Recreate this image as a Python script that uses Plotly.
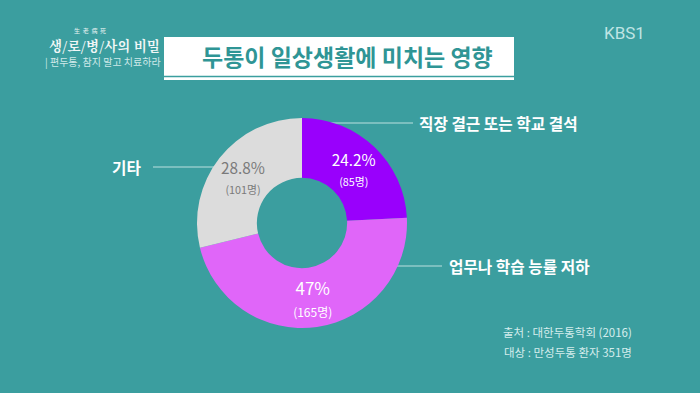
import plotly.graph_objects as go

W, H = 700, 393
BG = "#3b9e9f"
FONT = "Noto Sans CJK KR"

categories = ["직장 결근 또는 학교 결석", "업무나 학습 능률 저하", "기타"]
counts = [85, 165, 101]
pct_labels = ["24.2%", "47%", "28.8%"]
colors = ["#9900fc", "#e066f9", "#dcdcdc"]
text_colors = ["#ffffff", "#ffffff", "#7a7a7a"]

def px(x):
    return x / W

def py(y):
    return 1 - y / H

texts = [
    f"<span style='font-size:17px'>{p}</span><br><span style='font-size:12px'>({c}명)</span>"
    for p, c in zip(pct_labels, counts)
]

fig = go.Figure(go.Pie(
    labels=categories,
    values=counts,
    text=texts,
    textinfo="text",
    textposition="inside",
    insidetextorientation="horizontal",
    textfont=dict(family=FONT, size=17, color=text_colors),
    marker=dict(colors=colors, line=dict(width=0)),
    hole=0.43,
    sort=False,
    direction="clockwise",
    rotation=0,
    showlegend=False,
    domain=dict(x=[px(197), px(407)], y=[py(328), py(118)]),
    hoverinfo="label+value+percent",
))

shapes = [
    # title box
    dict(type="rect", xref="paper", yref="paper", x0=px(164), x1=px(514), y0=py(80), y1=py(37),
         fillcolor="white", line=dict(width=0), layer="below"),
    dict(type="line", xref="paper", yref="paper", x0=px(164), x1=px(514), y0=py(76.5), y1=py(76.5),
         line=dict(color=BG, width=1.5), layer="below"),
    # leader lines
    dict(type="line", xref="paper", yref="paper", x0=px(330), x1=px(413), y0=py(123), y1=py(123),
         line=dict(color="rgba(220,240,240,0.8)", width=1), layer="below"),
    dict(type="line", xref="paper", yref="paper", x0=px(153), x1=px(230), y0=py(167), y1=py(167),
         line=dict(color="rgba(220,240,240,0.8)", width=1), layer="below"),
    dict(type="line", xref="paper", yref="paper", x0=px(380), x1=px(442), y0=py(266), y1=py(266),
         line=dict(color="rgba(220,240,240,0.8)", width=1), layer="below"),
]

annotations = [
    dict(text="<b>두통이 일상생활에 미치는 영향</b>", x=px(347), y=py(56), xanchor="center", yanchor="middle",
         font=dict(family=FONT, size=23, color="#2f9595")),
    dict(text="<b>직장 결근 또는 학교 결석</b>", x=px(417), y=py(124), xanchor="left", yanchor="middle",
         font=dict(family=FONT, size=15.7, color="white")),
    dict(text="<b>업무나 학습 능률 저하</b>", x=px(447), y=py(266), xanchor="left", yanchor="middle",
         font=dict(family=FONT, size=15.7, color="white")),
    dict(text="<b>기타</b>", x=px(143), y=py(167), xanchor="right", yanchor="middle",
         font=dict(family=FONT, size=15.7, color="white")),
    dict(text="출처 : 대한두통학회 (2016)", x=px(634), y=py(332), xanchor="right", yanchor="middle",
         font=dict(family=FONT, size=11.5, color="#d5eded")),
    dict(text="대상 : 만성두통 환자 351명", x=px(634), y=py(352), xanchor="right", yanchor="middle",
         font=dict(family=FONT, size=11.5, color="#d5eded")),
    dict(text="KBS1", x=px(624), y=py(33), xanchor="center", yanchor="middle",
         font=dict(family="Roboto", size=17, color="#bfe4e4")),
    dict(text="<b>생/로/병/사의 비밀</b>", x=px(104), y=py(45), xanchor="center", yanchor="middle",
         font=dict(family="Noto Serif CJK KR, " + FONT, size=13.5, color="#f2f7f7")),
    dict(text="生 &nbsp;老 &nbsp;病 &nbsp;死", x=px(90), y=py(31), xanchor="center", yanchor="middle",
         font=dict(family="Noto Sans CJK SC", size=6, color="#e8f2f2")),
    dict(text="| 편두통, 참지 말고 치료하라", x=px(103), y=py(62), xanchor="center", yanchor="middle",
         font=dict(family=FONT, size=10, color="#cfe9e9")),
]
for a in annotations:
    a.update(xref="paper", yref="paper", showarrow=False)

fig.update_layout(
    width=W, height=H,
    margin=dict(l=0, r=0, t=0, b=0),
    paper_bgcolor=BG,
    plot_bgcolor=BG,
    shapes=shapes,
    annotations=annotations,
    font=dict(family=FONT),
)

fig.write_html(
    "out.html",
    config={"displayModeBar": False},
    post_script="document.body.style.margin='0';document.body.style.padding='0';document.body.style.overflow='hidden';",
)
